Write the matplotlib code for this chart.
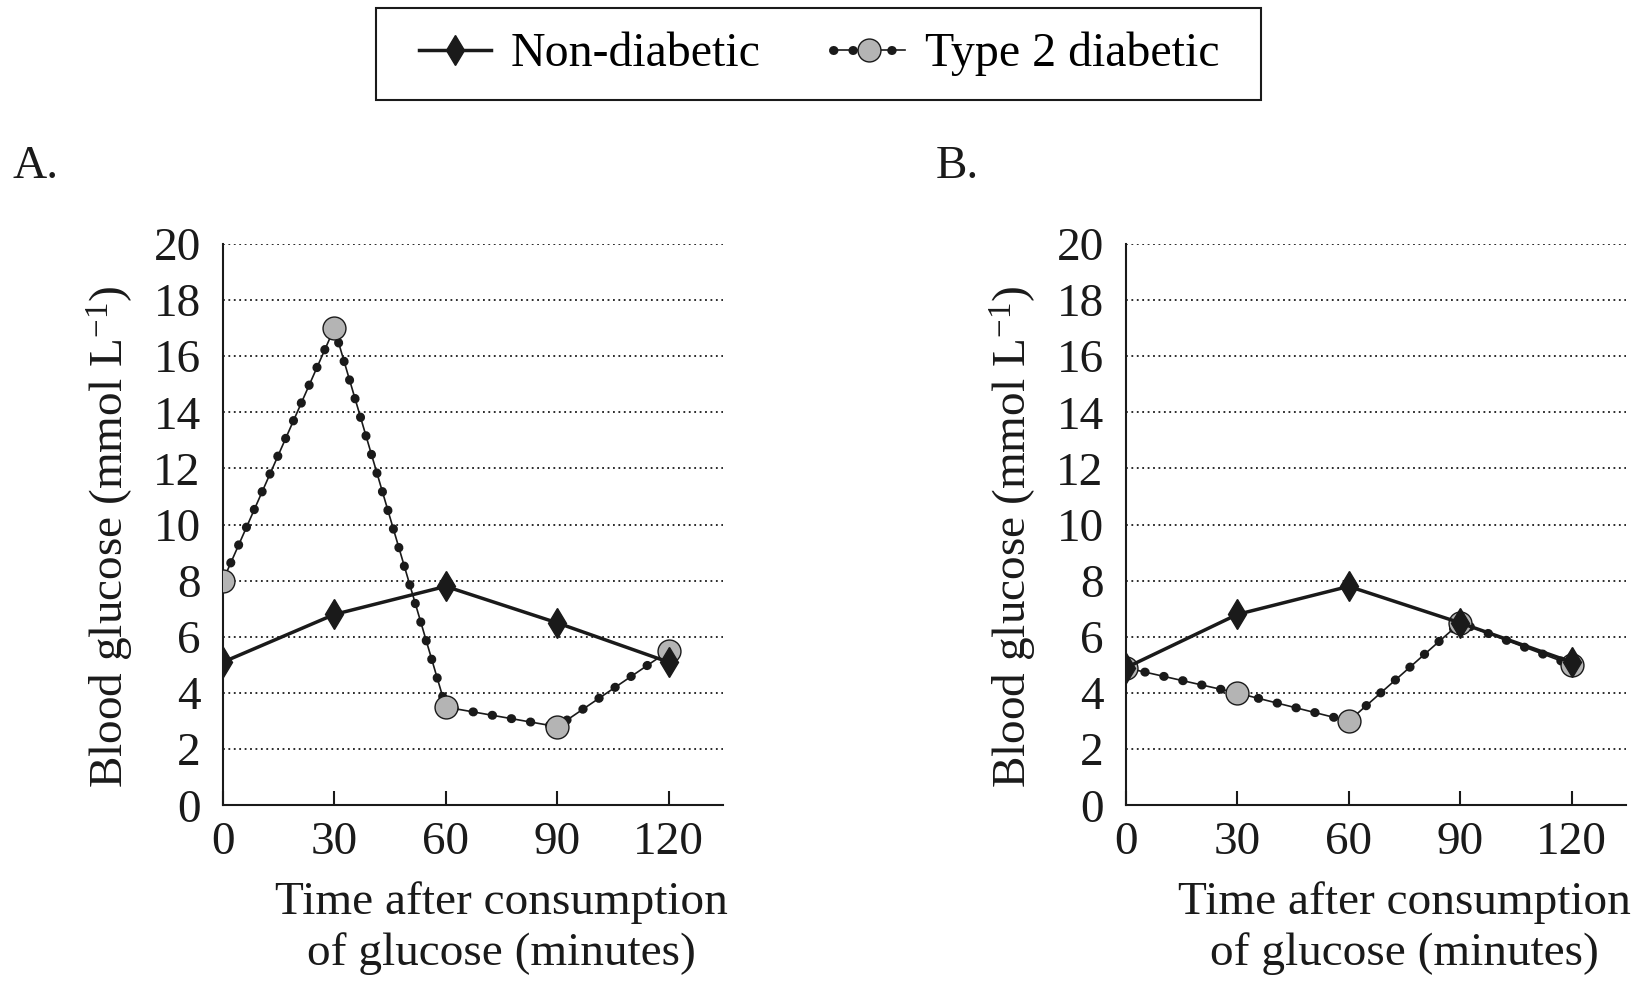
import matplotlib
matplotlib.use("Agg")
import matplotlib.pyplot as plt
from matplotlib.patches import Rectangle
from matplotlib.legend_handler import HandlerTuple

plt.rcParams['font.family'] = ['Liberation Serif', 'DejaVu Serif']
plt.rcParams['mathtext.fontset'] = 'custom'
plt.rcParams['mathtext.rm'] = 'Liberation Serif'
plt.rcParams['mathtext.it'] = 'Liberation Serif:italic'

# data
time_min = [0, 30, 60, 90, 120]
a_non_diabetic = [5.1, 6.8, 7.8, 6.5, 5.1]
a_type2 = [8.0, 17.0, 3.5, 2.8, 5.5]
b_non_diabetic = [4.9, 6.8, 7.8, 6.5, 5.1]
b_type2 = [4.9, 4.0, 3.0, 6.5, 5.0]
panel_names = ['A.', 'B.']
y_ticks = list(range(0, 21, 2))

INK = '#1a1a1a'
GREY = '#b4b4b4'
FS = 34

fig = plt.figure(figsize=(16.4, 9.84), dpi=100)
axes = [fig.add_axes([0.1359, 0.1816, 0.3051, 0.5705]),
        fig.add_axes([0.6865, 0.1816, 0.3051, 0.5705])]


def draw_panel(ax, non_diab, type2):
    # beaded line: thin solid line + round dots along it
    dots, = ax.plot(time_min, type2, color=INK, lw=6.5,
                    linestyle=(0, (0.05, 2.1)), dash_capstyle='round', zorder=2)
    thin, = ax.plot(time_min, type2, color=INK, lw=1.2, marker='o', ms=16.5,
                    mfc=GREY, mec=INK, mew=1.0, zorder=3)
    solid, = ax.plot(time_min, non_diab, color=INK, lw=2.5, marker='d',
                     ms=15, mfc=INK, mec=INK, zorder=4)
    ax.set_xlim(0, 134.7)
    ax.set_ylim(0, 20)
    ax.set_xticks(time_min)
    ax.set_yticks(y_ticks)
    for s in ('top', 'right'):
        ax.spines[s].set_visible(False)
    for s in ('left', 'bottom'):
        ax.spines[s].set_linewidth(1.5)
        ax.spines[s].set_color(INK)
    ax.tick_params(axis='x', direction='in', length=10, width=1.5, pad=12,
                   labelsize=FS, colors=INK)
    ax.tick_params(axis='y', length=0, pad=16, labelsize=FS, colors=INK)
    ax.grid(axis='y', color=INK, lw=1.3, linestyle=(0, (1, 2)))
    ax.set_axisbelow(True)
    ax.set_ylabel('Blood glucose (mmol L$^{-1}$)', fontsize=FS, color=INK)
    ax.yaxis.set_label_coords(-0.174, 0.479)
    ax.set_xlabel('Time after consumption\nof glucose (minutes)', fontsize=FS,
                  color=INK, linespacing=1.25)
    ax.xaxis.set_label_coords(0.557, -0.135)
    return solid, (dots, thin)


handles = None
for ax, name, nd, t2, xpos in zip(axes, panel_names,
                                  [a_non_diabetic, b_non_diabetic],
                                  [a_type2, b_type2], [0.0077, 0.5705]):
    handles = draw_panel(ax, nd, t2)
    fig.text(xpos, 0.831, name, fontsize=FS, color=INK, ha='left', va='center')

fig.legend(handles, ['Non-diabetic', 'Type 2 diabetic'], loc='center',
           bbox_to_anchor=(0.4994, 0.945), ncol=2, frameon=False, fontsize=34.5,
           handlelength=1.5, handletextpad=0.42, columnspacing=1.5,
           numpoints=1, handler_map={tuple: HandlerTuple(ndivide=1)})
fig.patches.append(Rectangle((0.2295, 0.8985), 0.5397, 0.093,
                             transform=fig.transFigure, fill=False,
                             edgecolor=INK, lw=1.5))

fig.savefig('out.png', dpi=100)
